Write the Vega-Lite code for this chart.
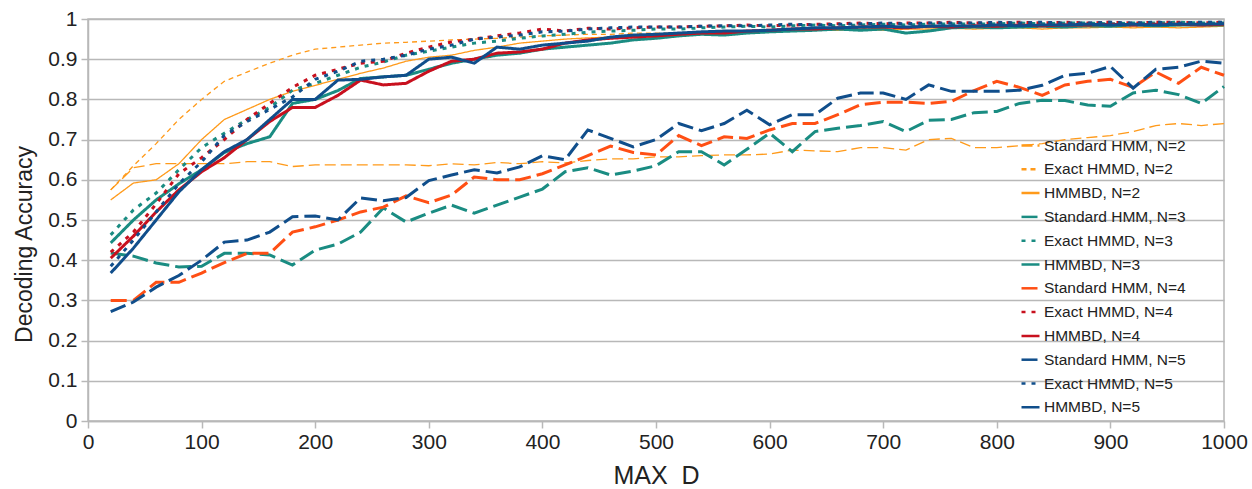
{
"$schema": "https://vega.github.io/schema/vega-lite/v6.json",
"width": 1136, "height": 402,
"autosize": {"type": "none"},
"padding": {"left": 88, "top": 19, "right": 28, "bottom": 68},
"background": "white",
"config": {"font": "Liberation Sans", "view": {"stroke": "#b8b8b8", "strokeWidth": 1.5}},
"data": {"values": [
{"s":"Standard HMM, N=2","d":20,"a":0.575},{"s":"Standard HMM, N=2","d":40,"a":0.63},{"s":"Standard HMM, N=2","d":60,"a":0.64},{"s":"Standard HMM, N=2","d":80,"a":0.64},{"s":"Standard HMM, N=2","d":100,"a":0.64},{"s":"Standard HMM, N=2","d":120,"a":0.64},{"s":"Standard HMM, N=2","d":140,"a":0.645},{"s":"Standard HMM, N=2","d":160,"a":0.645},{"s":"Standard HMM, N=2","d":180,"a":0.633},{"s":"Standard HMM, N=2","d":200,"a":0.637},{"s":"Standard HMM, N=2","d":220,"a":0.637},{"s":"Standard HMM, N=2","d":240,"a":0.637},{"s":"Standard HMM, N=2","d":260,"a":0.637},{"s":"Standard HMM, N=2","d":280,"a":0.637},{"s":"Standard HMM, N=2","d":300,"a":0.635},{"s":"Standard HMM, N=2","d":320,"a":0.64},{"s":"Standard HMM, N=2","d":340,"a":0.637},{"s":"Standard HMM, N=2","d":360,"a":0.643},{"s":"Standard HMM, N=2","d":380,"a":0.64},{"s":"Standard HMM, N=2","d":400,"a":0.645},{"s":"Standard HMM, N=2","d":420,"a":0.642},{"s":"Standard HMM, N=2","d":440,"a":0.648},{"s":"Standard HMM, N=2","d":460,"a":0.652},{"s":"Standard HMM, N=2","d":480,"a":0.652},{"s":"Standard HMM, N=2","d":500,"a":0.657},{"s":"Standard HMM, N=2","d":520,"a":0.657},{"s":"Standard HMM, N=2","d":540,"a":0.66},{"s":"Standard HMM, N=2","d":560,"a":0.662},{"s":"Standard HMM, N=2","d":580,"a":0.662},{"s":"Standard HMM, N=2","d":600,"a":0.664},{"s":"Standard HMM, N=2","d":620,"a":0.674},{"s":"Standard HMM, N=2","d":640,"a":0.672},{"s":"Standard HMM, N=2","d":660,"a":0.67},{"s":"Standard HMM, N=2","d":680,"a":0.68},{"s":"Standard HMM, N=2","d":700,"a":0.68},{"s":"Standard HMM, N=2","d":720,"a":0.674},{"s":"Standard HMM, N=2","d":740,"a":0.7},{"s":"Standard HMM, N=2","d":760,"a":0.703},{"s":"Standard HMM, N=2","d":780,"a":0.68},{"s":"Standard HMM, N=2","d":800,"a":0.68},{"s":"Standard HMM, N=2","d":820,"a":0.685},{"s":"Standard HMM, N=2","d":840,"a":0.69},{"s":"Standard HMM, N=2","d":860,"a":0.7},{"s":"Standard HMM, N=2","d":880,"a":0.705},{"s":"Standard HMM, N=2","d":900,"a":0.71},{"s":"Standard HMM, N=2","d":920,"a":0.72},{"s":"Standard HMM, N=2","d":940,"a":0.735},{"s":"Standard HMM, N=2","d":960,"a":0.74},{"s":"Standard HMM, N=2","d":980,"a":0.735},{"s":"Standard HMM, N=2","d":1000,"a":0.74},
{"s":"Exact HMMD, N=2","d":20,"a":0.575},{"s":"Exact HMMD, N=2","d":40,"a":0.635},{"s":"Exact HMMD, N=2","d":60,"a":0.69},{"s":"Exact HMMD, N=2","d":80,"a":0.75},{"s":"Exact HMMD, N=2","d":100,"a":0.8},{"s":"Exact HMMD, N=2","d":120,"a":0.845},{"s":"Exact HMMD, N=2","d":140,"a":0.868},{"s":"Exact HMMD, N=2","d":160,"a":0.89},{"s":"Exact HMMD, N=2","d":180,"a":0.91},{"s":"Exact HMMD, N=2","d":200,"a":0.925},{"s":"Exact HMMD, N=2","d":220,"a":0.93},{"s":"Exact HMMD, N=2","d":240,"a":0.935},{"s":"Exact HMMD, N=2","d":260,"a":0.94},{"s":"Exact HMMD, N=2","d":280,"a":0.942},{"s":"Exact HMMD, N=2","d":300,"a":0.945},{"s":"Exact HMMD, N=2","d":320,"a":0.948},{"s":"Exact HMMD, N=2","d":340,"a":0.95},{"s":"Exact HMMD, N=2","d":360,"a":0.952},{"s":"Exact HMMD, N=2","d":380,"a":0.955},{"s":"Exact HMMD, N=2","d":400,"a":0.958},{"s":"Exact HMMD, N=2","d":420,"a":0.96},{"s":"Exact HMMD, N=2","d":440,"a":0.962},{"s":"Exact HMMD, N=2","d":460,"a":0.962},{"s":"Exact HMMD, N=2","d":480,"a":0.965},{"s":"Exact HMMD, N=2","d":500,"a":0.965},{"s":"Exact HMMD, N=2","d":520,"a":0.965},{"s":"Exact HMMD, N=2","d":540,"a":0.968},{"s":"Exact HMMD, N=2","d":560,"a":0.97},{"s":"Exact HMMD, N=2","d":580,"a":0.97},{"s":"Exact HMMD, N=2","d":600,"a":0.972},{"s":"Exact HMMD, N=2","d":620,"a":0.975},{"s":"Exact HMMD, N=2","d":640,"a":0.975},{"s":"Exact HMMD, N=2","d":660,"a":0.977},{"s":"Exact HMMD, N=2","d":680,"a":0.975},{"s":"Exact HMMD, N=2","d":700,"a":0.978},{"s":"Exact HMMD, N=2","d":720,"a":0.98},{"s":"Exact HMMD, N=2","d":740,"a":0.978},{"s":"Exact HMMD, N=2","d":760,"a":0.98},{"s":"Exact HMMD, N=2","d":780,"a":0.98},{"s":"Exact HMMD, N=2","d":800,"a":0.982},{"s":"Exact HMMD, N=2","d":820,"a":0.98},{"s":"Exact HMMD, N=2","d":840,"a":0.982},{"s":"Exact HMMD, N=2","d":860,"a":0.98},{"s":"Exact HMMD, N=2","d":880,"a":0.983},{"s":"Exact HMMD, N=2","d":900,"a":0.982},{"s":"Exact HMMD, N=2","d":920,"a":0.983},{"s":"Exact HMMD, N=2","d":940,"a":0.985},{"s":"Exact HMMD, N=2","d":960,"a":0.983},{"s":"Exact HMMD, N=2","d":980,"a":0.985},{"s":"Exact HMMD, N=2","d":1000,"a":0.985},
{"s":"HMMBD, N=2","d":20,"a":0.55},{"s":"HMMBD, N=2","d":40,"a":0.592},{"s":"HMMBD, N=2","d":60,"a":0.6},{"s":"HMMBD, N=2","d":80,"a":0.64},{"s":"HMMBD, N=2","d":100,"a":0.7},{"s":"HMMBD, N=2","d":120,"a":0.75},{"s":"HMMBD, N=2","d":140,"a":0.775},{"s":"HMMBD, N=2","d":160,"a":0.8},{"s":"HMMBD, N=2","d":180,"a":0.82},{"s":"HMMBD, N=2","d":200,"a":0.835},{"s":"HMMBD, N=2","d":220,"a":0.85},{"s":"HMMBD, N=2","d":240,"a":0.865},{"s":"HMMBD, N=2","d":260,"a":0.878},{"s":"HMMBD, N=2","d":280,"a":0.895},{"s":"HMMBD, N=2","d":300,"a":0.905},{"s":"HMMBD, N=2","d":320,"a":0.91},{"s":"HMMBD, N=2","d":340,"a":0.922},{"s":"HMMBD, N=2","d":360,"a":0.93},{"s":"HMMBD, N=2","d":380,"a":0.94},{"s":"HMMBD, N=2","d":400,"a":0.945},{"s":"HMMBD, N=2","d":420,"a":0.95},{"s":"HMMBD, N=2","d":440,"a":0.953},{"s":"HMMBD, N=2","d":460,"a":0.955},{"s":"HMMBD, N=2","d":480,"a":0.958},{"s":"HMMBD, N=2","d":500,"a":0.958},{"s":"HMMBD, N=2","d":520,"a":0.96},{"s":"HMMBD, N=2","d":540,"a":0.962},{"s":"HMMBD, N=2","d":560,"a":0.965},{"s":"HMMBD, N=2","d":580,"a":0.965},{"s":"HMMBD, N=2","d":600,"a":0.968},{"s":"HMMBD, N=2","d":620,"a":0.97},{"s":"HMMBD, N=2","d":640,"a":0.972},{"s":"HMMBD, N=2","d":660,"a":0.972},{"s":"HMMBD, N=2","d":680,"a":0.975},{"s":"HMMBD, N=2","d":700,"a":0.972},{"s":"HMMBD, N=2","d":720,"a":0.975},{"s":"HMMBD, N=2","d":740,"a":0.975},{"s":"HMMBD, N=2","d":760,"a":0.977},{"s":"HMMBD, N=2","d":780,"a":0.975},{"s":"HMMBD, N=2","d":800,"a":0.977},{"s":"HMMBD, N=2","d":820,"a":0.978},{"s":"HMMBD, N=2","d":840,"a":0.975},{"s":"HMMBD, N=2","d":860,"a":0.978},{"s":"HMMBD, N=2","d":880,"a":0.978},{"s":"HMMBD, N=2","d":900,"a":0.98},{"s":"HMMBD, N=2","d":920,"a":0.978},{"s":"HMMBD, N=2","d":940,"a":0.98},{"s":"HMMBD, N=2","d":960,"a":0.978},{"s":"HMMBD, N=2","d":980,"a":0.98},{"s":"HMMBD, N=2","d":1000,"a":0.982},
{"s":"Standard HMM, N=3","d":20,"a":0.418},{"s":"Standard HMM, N=3","d":40,"a":0.41},{"s":"Standard HMM, N=3","d":60,"a":0.393},{"s":"Standard HMM, N=3","d":80,"a":0.383},{"s":"Standard HMM, N=3","d":100,"a":0.385},{"s":"Standard HMM, N=3","d":120,"a":0.417},{"s":"Standard HMM, N=3","d":140,"a":0.417},{"s":"Standard HMM, N=3","d":160,"a":0.413},{"s":"Standard HMM, N=3","d":180,"a":0.388},{"s":"Standard HMM, N=3","d":200,"a":0.425},{"s":"Standard HMM, N=3","d":220,"a":0.44},{"s":"Standard HMM, N=3","d":240,"a":0.47},{"s":"Standard HMM, N=3","d":260,"a":0.53},{"s":"Standard HMM, N=3","d":280,"a":0.495},{"s":"Standard HMM, N=3","d":300,"a":0.517},{"s":"Standard HMM, N=3","d":320,"a":0.537},{"s":"Standard HMM, N=3","d":340,"a":0.517},{"s":"Standard HMM, N=3","d":360,"a":0.537},{"s":"Standard HMM, N=3","d":380,"a":0.557},{"s":"Standard HMM, N=3","d":400,"a":0.577},{"s":"Standard HMM, N=3","d":420,"a":0.62},{"s":"Standard HMM, N=3","d":440,"a":0.63},{"s":"Standard HMM, N=3","d":460,"a":0.612},{"s":"Standard HMM, N=3","d":480,"a":0.622},{"s":"Standard HMM, N=3","d":500,"a":0.635},{"s":"Standard HMM, N=3","d":520,"a":0.67},{"s":"Standard HMM, N=3","d":540,"a":0.67},{"s":"Standard HMM, N=3","d":560,"a":0.637},{"s":"Standard HMM, N=3","d":580,"a":0.676},{"s":"Standard HMM, N=3","d":600,"a":0.716},{"s":"Standard HMM, N=3","d":620,"a":0.67},{"s":"Standard HMM, N=3","d":640,"a":0.72},{"s":"Standard HMM, N=3","d":660,"a":0.728},{"s":"Standard HMM, N=3","d":680,"a":0.735},{"s":"Standard HMM, N=3","d":700,"a":0.745},{"s":"Standard HMM, N=3","d":720,"a":0.72},{"s":"Standard HMM, N=3","d":740,"a":0.748},{"s":"Standard HMM, N=3","d":760,"a":0.75},{"s":"Standard HMM, N=3","d":780,"a":0.767},{"s":"Standard HMM, N=3","d":800,"a":0.77},{"s":"Standard HMM, N=3","d":820,"a":0.79},{"s":"Standard HMM, N=3","d":840,"a":0.798},{"s":"Standard HMM, N=3","d":860,"a":0.797},{"s":"Standard HMM, N=3","d":880,"a":0.786},{"s":"Standard HMM, N=3","d":900,"a":0.783},{"s":"Standard HMM, N=3","d":920,"a":0.816},{"s":"Standard HMM, N=3","d":940,"a":0.823},{"s":"Standard HMM, N=3","d":960,"a":0.812},{"s":"Standard HMM, N=3","d":980,"a":0.79},{"s":"Standard HMM, N=3","d":1000,"a":0.832},
{"s":"Exact HMMD, N=3","d":20,"a":0.463},{"s":"Exact HMMD, N=3","d":40,"a":0.525},{"s":"Exact HMMD, N=3","d":60,"a":0.567},{"s":"Exact HMMD, N=3","d":80,"a":0.625},{"s":"Exact HMMD, N=3","d":100,"a":0.68},{"s":"Exact HMMD, N=3","d":120,"a":0.716},{"s":"Exact HMMD, N=3","d":140,"a":0.75},{"s":"Exact HMMD, N=3","d":160,"a":0.78},{"s":"Exact HMMD, N=3","d":180,"a":0.823},{"s":"Exact HMMD, N=3","d":200,"a":0.84},{"s":"Exact HMMD, N=3","d":220,"a":0.86},{"s":"Exact HMMD, N=3","d":240,"a":0.88},{"s":"Exact HMMD, N=3","d":260,"a":0.893},{"s":"Exact HMMD, N=3","d":280,"a":0.91},{"s":"Exact HMMD, N=3","d":300,"a":0.92},{"s":"Exact HMMD, N=3","d":320,"a":0.93},{"s":"Exact HMMD, N=3","d":340,"a":0.94},{"s":"Exact HMMD, N=3","d":360,"a":0.945},{"s":"Exact HMMD, N=3","d":380,"a":0.952},{"s":"Exact HMMD, N=3","d":400,"a":0.958},{"s":"Exact HMMD, N=3","d":420,"a":0.962},{"s":"Exact HMMD, N=3","d":440,"a":0.967},{"s":"Exact HMMD, N=3","d":460,"a":0.97},{"s":"Exact HMMD, N=3","d":480,"a":0.972},{"s":"Exact HMMD, N=3","d":500,"a":0.975},{"s":"Exact HMMD, N=3","d":520,"a":0.975},{"s":"Exact HMMD, N=3","d":540,"a":0.978},{"s":"Exact HMMD, N=3","d":560,"a":0.98},{"s":"Exact HMMD, N=3","d":580,"a":0.982},{"s":"Exact HMMD, N=3","d":600,"a":0.98},{"s":"Exact HMMD, N=3","d":620,"a":0.983},{"s":"Exact HMMD, N=3","d":640,"a":0.985},{"s":"Exact HMMD, N=3","d":660,"a":0.983},{"s":"Exact HMMD, N=3","d":680,"a":0.985},{"s":"Exact HMMD, N=3","d":700,"a":0.987},{"s":"Exact HMMD, N=3","d":720,"a":0.985},{"s":"Exact HMMD, N=3","d":740,"a":0.987},{"s":"Exact HMMD, N=3","d":760,"a":0.988},{"s":"Exact HMMD, N=3","d":780,"a":0.987},{"s":"Exact HMMD, N=3","d":800,"a":0.988},{"s":"Exact HMMD, N=3","d":820,"a":0.99},{"s":"Exact HMMD, N=3","d":840,"a":0.988},{"s":"Exact HMMD, N=3","d":860,"a":0.99},{"s":"Exact HMMD, N=3","d":880,"a":0.99},{"s":"Exact HMMD, N=3","d":900,"a":0.988},{"s":"Exact HMMD, N=3","d":920,"a":0.99},{"s":"Exact HMMD, N=3","d":940,"a":0.99},{"s":"Exact HMMD, N=3","d":960,"a":0.992},{"s":"Exact HMMD, N=3","d":980,"a":0.99},{"s":"Exact HMMD, N=3","d":1000,"a":0.99},
{"s":"HMMBD, N=3","d":20,"a":0.443},{"s":"HMMBD, N=3","d":40,"a":0.5},{"s":"HMMBD, N=3","d":60,"a":0.55},{"s":"HMMBD, N=3","d":80,"a":0.59},{"s":"HMMBD, N=3","d":100,"a":0.625},{"s":"HMMBD, N=3","d":120,"a":0.668},{"s":"HMMBD, N=3","d":140,"a":0.69},{"s":"HMMBD, N=3","d":160,"a":0.707},{"s":"HMMBD, N=3","d":180,"a":0.79},{"s":"HMMBD, N=3","d":200,"a":0.8},{"s":"HMMBD, N=3","d":220,"a":0.822},{"s":"HMMBD, N=3","d":240,"a":0.852},{"s":"HMMBD, N=3","d":260,"a":0.856},{"s":"HMMBD, N=3","d":280,"a":0.86},{"s":"HMMBD, N=3","d":300,"a":0.875},{"s":"HMMBD, N=3","d":320,"a":0.89},{"s":"HMMBD, N=3","d":340,"a":0.9},{"s":"HMMBD, N=3","d":360,"a":0.91},{"s":"HMMBD, N=3","d":380,"a":0.915},{"s":"HMMBD, N=3","d":400,"a":0.925},{"s":"HMMBD, N=3","d":420,"a":0.93},{"s":"HMMBD, N=3","d":440,"a":0.935},{"s":"HMMBD, N=3","d":460,"a":0.94},{"s":"HMMBD, N=3","d":480,"a":0.948},{"s":"HMMBD, N=3","d":500,"a":0.952},{"s":"HMMBD, N=3","d":520,"a":0.958},{"s":"HMMBD, N=3","d":540,"a":0.962},{"s":"HMMBD, N=3","d":560,"a":0.96},{"s":"HMMBD, N=3","d":580,"a":0.965},{"s":"HMMBD, N=3","d":600,"a":0.968},{"s":"HMMBD, N=3","d":620,"a":0.97},{"s":"HMMBD, N=3","d":640,"a":0.972},{"s":"HMMBD, N=3","d":660,"a":0.975},{"s":"HMMBD, N=3","d":680,"a":0.972},{"s":"HMMBD, N=3","d":700,"a":0.975},{"s":"HMMBD, N=3","d":720,"a":0.965},{"s":"HMMBD, N=3","d":740,"a":0.97},{"s":"HMMBD, N=3","d":760,"a":0.978},{"s":"HMMBD, N=3","d":780,"a":0.98},{"s":"HMMBD, N=3","d":800,"a":0.978},{"s":"HMMBD, N=3","d":820,"a":0.98},{"s":"HMMBD, N=3","d":840,"a":0.982},{"s":"HMMBD, N=3","d":860,"a":0.98},{"s":"HMMBD, N=3","d":880,"a":0.983},{"s":"HMMBD, N=3","d":900,"a":0.982},{"s":"HMMBD, N=3","d":920,"a":0.985},{"s":"HMMBD, N=3","d":940,"a":0.983},{"s":"HMMBD, N=3","d":960,"a":0.985},{"s":"HMMBD, N=3","d":980,"a":0.985},{"s":"HMMBD, N=3","d":1000,"a":0.985},
{"s":"Standard HMM, N=4","d":20,"a":0.3},{"s":"Standard HMM, N=4","d":40,"a":0.3},{"s":"Standard HMM, N=4","d":60,"a":0.345},{"s":"Standard HMM, N=4","d":80,"a":0.345},{"s":"Standard HMM, N=4","d":100,"a":0.368},{"s":"Standard HMM, N=4","d":120,"a":0.394},{"s":"Standard HMM, N=4","d":140,"a":0.417},{"s":"Standard HMM, N=4","d":160,"a":0.417},{"s":"Standard HMM, N=4","d":180,"a":0.47},{"s":"Standard HMM, N=4","d":200,"a":0.483},{"s":"Standard HMM, N=4","d":220,"a":0.5},{"s":"Standard HMM, N=4","d":240,"a":0.52},{"s":"Standard HMM, N=4","d":260,"a":0.532},{"s":"Standard HMM, N=4","d":280,"a":0.56},{"s":"Standard HMM, N=4","d":300,"a":0.543},{"s":"Standard HMM, N=4","d":320,"a":0.562},{"s":"Standard HMM, N=4","d":340,"a":0.607},{"s":"Standard HMM, N=4","d":360,"a":0.6},{"s":"Standard HMM, N=4","d":380,"a":0.6},{"s":"Standard HMM, N=4","d":400,"a":0.615},{"s":"Standard HMM, N=4","d":420,"a":0.637},{"s":"Standard HMM, N=4","d":440,"a":0.66},{"s":"Standard HMM, N=4","d":460,"a":0.684},{"s":"Standard HMM, N=4","d":480,"a":0.668},{"s":"Standard HMM, N=4","d":500,"a":0.662},{"s":"Standard HMM, N=4","d":520,"a":0.71},{"s":"Standard HMM, N=4","d":540,"a":0.685},{"s":"Standard HMM, N=4","d":560,"a":0.707},{"s":"Standard HMM, N=4","d":580,"a":0.703},{"s":"Standard HMM, N=4","d":600,"a":0.724},{"s":"Standard HMM, N=4","d":620,"a":0.74},{"s":"Standard HMM, N=4","d":640,"a":0.74},{"s":"Standard HMM, N=4","d":660,"a":0.762},{"s":"Standard HMM, N=4","d":680,"a":0.787},{"s":"Standard HMM, N=4","d":700,"a":0.793},{"s":"Standard HMM, N=4","d":720,"a":0.793},{"s":"Standard HMM, N=4","d":740,"a":0.79},{"s":"Standard HMM, N=4","d":760,"a":0.795},{"s":"Standard HMM, N=4","d":780,"a":0.822},{"s":"Standard HMM, N=4","d":800,"a":0.845},{"s":"Standard HMM, N=4","d":820,"a":0.83},{"s":"Standard HMM, N=4","d":840,"a":0.81},{"s":"Standard HMM, N=4","d":860,"a":0.836},{"s":"Standard HMM, N=4","d":880,"a":0.845},{"s":"Standard HMM, N=4","d":900,"a":0.85},{"s":"Standard HMM, N=4","d":920,"a":0.83},{"s":"Standard HMM, N=4","d":940,"a":0.868},{"s":"Standard HMM, N=4","d":960,"a":0.84},{"s":"Standard HMM, N=4","d":980,"a":0.88},{"s":"Standard HMM, N=4","d":1000,"a":0.86},
{"s":"Exact HMMD, N=4","d":20,"a":0.42},{"s":"Exact HMMD, N=4","d":40,"a":0.47},{"s":"Exact HMMD, N=4","d":60,"a":0.54},{"s":"Exact HMMD, N=4","d":80,"a":0.615},{"s":"Exact HMMD, N=4","d":100,"a":0.655},{"s":"Exact HMMD, N=4","d":120,"a":0.7},{"s":"Exact HMMD, N=4","d":140,"a":0.75},{"s":"Exact HMMD, N=4","d":160,"a":0.79},{"s":"Exact HMMD, N=4","d":180,"a":0.83},{"s":"Exact HMMD, N=4","d":200,"a":0.86},{"s":"Exact HMMD, N=4","d":220,"a":0.875},{"s":"Exact HMMD, N=4","d":240,"a":0.89},{"s":"Exact HMMD, N=4","d":260,"a":0.895},{"s":"Exact HMMD, N=4","d":280,"a":0.915},{"s":"Exact HMMD, N=4","d":300,"a":0.93},{"s":"Exact HMMD, N=4","d":320,"a":0.943},{"s":"Exact HMMD, N=4","d":340,"a":0.95},{"s":"Exact HMMD, N=4","d":360,"a":0.958},{"s":"Exact HMMD, N=4","d":380,"a":0.965},{"s":"Exact HMMD, N=4","d":400,"a":0.975},{"s":"Exact HMMD, N=4","d":420,"a":0.97},{"s":"Exact HMMD, N=4","d":440,"a":0.977},{"s":"Exact HMMD, N=4","d":460,"a":0.975},{"s":"Exact HMMD, N=4","d":480,"a":0.978},{"s":"Exact HMMD, N=4","d":500,"a":0.98},{"s":"Exact HMMD, N=4","d":520,"a":0.98},{"s":"Exact HMMD, N=4","d":540,"a":0.982},{"s":"Exact HMMD, N=4","d":560,"a":0.983},{"s":"Exact HMMD, N=4","d":580,"a":0.985},{"s":"Exact HMMD, N=4","d":600,"a":0.983},{"s":"Exact HMMD, N=4","d":620,"a":0.985},{"s":"Exact HMMD, N=4","d":640,"a":0.987},{"s":"Exact HMMD, N=4","d":660,"a":0.988},{"s":"Exact HMMD, N=4","d":680,"a":0.99},{"s":"Exact HMMD, N=4","d":700,"a":0.988},{"s":"Exact HMMD, N=4","d":720,"a":0.99},{"s":"Exact HMMD, N=4","d":740,"a":0.99},{"s":"Exact HMMD, N=4","d":760,"a":0.992},{"s":"Exact HMMD, N=4","d":780,"a":0.99},{"s":"Exact HMMD, N=4","d":800,"a":0.99},{"s":"Exact HMMD, N=4","d":820,"a":0.992},{"s":"Exact HMMD, N=4","d":840,"a":0.99},{"s":"Exact HMMD, N=4","d":860,"a":0.992},{"s":"Exact HMMD, N=4","d":880,"a":0.99},{"s":"Exact HMMD, N=4","d":900,"a":0.992},{"s":"Exact HMMD, N=4","d":920,"a":0.99},{"s":"Exact HMMD, N=4","d":940,"a":0.992},{"s":"Exact HMMD, N=4","d":960,"a":0.992},{"s":"Exact HMMD, N=4","d":980,"a":0.99},{"s":"Exact HMMD, N=4","d":1000,"a":0.992},
{"s":"HMMBD, N=4","d":20,"a":0.405},{"s":"HMMBD, N=4","d":40,"a":0.46},{"s":"HMMBD, N=4","d":60,"a":0.52},{"s":"HMMBD, N=4","d":80,"a":0.575},{"s":"HMMBD, N=4","d":100,"a":0.62},{"s":"HMMBD, N=4","d":120,"a":0.655},{"s":"HMMBD, N=4","d":140,"a":0.7},{"s":"HMMBD, N=4","d":160,"a":0.745},{"s":"HMMBD, N=4","d":180,"a":0.78},{"s":"HMMBD, N=4","d":200,"a":0.78},{"s":"HMMBD, N=4","d":220,"a":0.81},{"s":"HMMBD, N=4","d":240,"a":0.848},{"s":"HMMBD, N=4","d":260,"a":0.836},{"s":"HMMBD, N=4","d":280,"a":0.84},{"s":"HMMBD, N=4","d":300,"a":0.87},{"s":"HMMBD, N=4","d":320,"a":0.895},{"s":"HMMBD, N=4","d":340,"a":0.9},{"s":"HMMBD, N=4","d":360,"a":0.915},{"s":"HMMBD, N=4","d":380,"a":0.918},{"s":"HMMBD, N=4","d":400,"a":0.925},{"s":"HMMBD, N=4","d":420,"a":0.94},{"s":"HMMBD, N=4","d":440,"a":0.948},{"s":"HMMBD, N=4","d":460,"a":0.952},{"s":"HMMBD, N=4","d":480,"a":0.955},{"s":"HMMBD, N=4","d":500,"a":0.958},{"s":"HMMBD, N=4","d":520,"a":0.962},{"s":"HMMBD, N=4","d":540,"a":0.965},{"s":"HMMBD, N=4","d":560,"a":0.965},{"s":"HMMBD, N=4","d":580,"a":0.97},{"s":"HMMBD, N=4","d":600,"a":0.972},{"s":"HMMBD, N=4","d":620,"a":0.975},{"s":"HMMBD, N=4","d":640,"a":0.975},{"s":"HMMBD, N=4","d":660,"a":0.978},{"s":"HMMBD, N=4","d":680,"a":0.98},{"s":"HMMBD, N=4","d":700,"a":0.98},{"s":"HMMBD, N=4","d":720,"a":0.978},{"s":"HMMBD, N=4","d":740,"a":0.982},{"s":"HMMBD, N=4","d":760,"a":0.98},{"s":"HMMBD, N=4","d":780,"a":0.983},{"s":"HMMBD, N=4","d":800,"a":0.982},{"s":"HMMBD, N=4","d":820,"a":0.985},{"s":"HMMBD, N=4","d":840,"a":0.983},{"s":"HMMBD, N=4","d":860,"a":0.985},{"s":"HMMBD, N=4","d":880,"a":0.985},{"s":"HMMBD, N=4","d":900,"a":0.987},{"s":"HMMBD, N=4","d":920,"a":0.985},{"s":"HMMBD, N=4","d":940,"a":0.987},{"s":"HMMBD, N=4","d":960,"a":0.987},{"s":"HMMBD, N=4","d":980,"a":0.985},{"s":"HMMBD, N=4","d":1000,"a":0.987},
{"s":"Standard HMM, N=5","d":20,"a":0.272},{"s":"Standard HMM, N=5","d":40,"a":0.296},{"s":"Standard HMM, N=5","d":60,"a":0.333},{"s":"Standard HMM, N=5","d":80,"a":0.362},{"s":"Standard HMM, N=5","d":100,"a":0.4},{"s":"Standard HMM, N=5","d":120,"a":0.445},{"s":"Standard HMM, N=5","d":140,"a":0.45},{"s":"Standard HMM, N=5","d":160,"a":0.47},{"s":"Standard HMM, N=5","d":180,"a":0.508},{"s":"Standard HMM, N=5","d":200,"a":0.51},{"s":"Standard HMM, N=5","d":220,"a":0.5},{"s":"Standard HMM, N=5","d":240,"a":0.555},{"s":"Standard HMM, N=5","d":260,"a":0.548},{"s":"Standard HMM, N=5","d":280,"a":0.556},{"s":"Standard HMM, N=5","d":300,"a":0.598},{"s":"Standard HMM, N=5","d":320,"a":0.612},{"s":"Standard HMM, N=5","d":340,"a":0.625},{"s":"Standard HMM, N=5","d":360,"a":0.617},{"s":"Standard HMM, N=5","d":380,"a":0.632},{"s":"Standard HMM, N=5","d":400,"a":0.66},{"s":"Standard HMM, N=5","d":420,"a":0.65},{"s":"Standard HMM, N=5","d":440,"a":0.724},{"s":"Standard HMM, N=5","d":460,"a":0.703},{"s":"Standard HMM, N=5","d":480,"a":0.682},{"s":"Standard HMM, N=5","d":500,"a":0.7},{"s":"Standard HMM, N=5","d":520,"a":0.74},{"s":"Standard HMM, N=5","d":540,"a":0.722},{"s":"Standard HMM, N=5","d":560,"a":0.74},{"s":"Standard HMM, N=5","d":580,"a":0.773},{"s":"Standard HMM, N=5","d":600,"a":0.737},{"s":"Standard HMM, N=5","d":620,"a":0.762},{"s":"Standard HMM, N=5","d":640,"a":0.762},{"s":"Standard HMM, N=5","d":660,"a":0.803},{"s":"Standard HMM, N=5","d":680,"a":0.816},{"s":"Standard HMM, N=5","d":700,"a":0.816},{"s":"Standard HMM, N=5","d":720,"a":0.8},{"s":"Standard HMM, N=5","d":740,"a":0.836},{"s":"Standard HMM, N=5","d":760,"a":0.82},{"s":"Standard HMM, N=5","d":780,"a":0.82},{"s":"Standard HMM, N=5","d":800,"a":0.82},{"s":"Standard HMM, N=5","d":820,"a":0.823},{"s":"Standard HMM, N=5","d":840,"a":0.835},{"s":"Standard HMM, N=5","d":860,"a":0.86},{"s":"Standard HMM, N=5","d":880,"a":0.865},{"s":"Standard HMM, N=5","d":900,"a":0.882},{"s":"Standard HMM, N=5","d":920,"a":0.828},{"s":"Standard HMM, N=5","d":940,"a":0.875},{"s":"Standard HMM, N=5","d":960,"a":0.88},{"s":"Standard HMM, N=5","d":980,"a":0.895},{"s":"Standard HMM, N=5","d":1000,"a":0.89},
{"s":"Exact HMMD, N=5","d":20,"a":0.385},{"s":"Exact HMMD, N=5","d":40,"a":0.45},{"s":"Exact HMMD, N=5","d":60,"a":0.52},{"s":"Exact HMMD, N=5","d":80,"a":0.59},{"s":"Exact HMMD, N=5","d":100,"a":0.645},{"s":"Exact HMMD, N=5","d":120,"a":0.71},{"s":"Exact HMMD, N=5","d":140,"a":0.745},{"s":"Exact HMMD, N=5","d":160,"a":0.775},{"s":"Exact HMMD, N=5","d":180,"a":0.806},{"s":"Exact HMMD, N=5","d":200,"a":0.85},{"s":"Exact HMMD, N=5","d":220,"a":0.87},{"s":"Exact HMMD, N=5","d":240,"a":0.895},{"s":"Exact HMMD, N=5","d":260,"a":0.9},{"s":"Exact HMMD, N=5","d":280,"a":0.91},{"s":"Exact HMMD, N=5","d":300,"a":0.925},{"s":"Exact HMMD, N=5","d":320,"a":0.935},{"s":"Exact HMMD, N=5","d":340,"a":0.95},{"s":"Exact HMMD, N=5","d":360,"a":0.955},{"s":"Exact HMMD, N=5","d":380,"a":0.96},{"s":"Exact HMMD, N=5","d":400,"a":0.968},{"s":"Exact HMMD, N=5","d":420,"a":0.97},{"s":"Exact HMMD, N=5","d":440,"a":0.975},{"s":"Exact HMMD, N=5","d":460,"a":0.978},{"s":"Exact HMMD, N=5","d":480,"a":0.98},{"s":"Exact HMMD, N=5","d":500,"a":0.98},{"s":"Exact HMMD, N=5","d":520,"a":0.98},{"s":"Exact HMMD, N=5","d":540,"a":0.982},{"s":"Exact HMMD, N=5","d":560,"a":0.983},{"s":"Exact HMMD, N=5","d":580,"a":0.983},{"s":"Exact HMMD, N=5","d":600,"a":0.985},{"s":"Exact HMMD, N=5","d":620,"a":0.987},{"s":"Exact HMMD, N=5","d":640,"a":0.985},{"s":"Exact HMMD, N=5","d":660,"a":0.987},{"s":"Exact HMMD, N=5","d":680,"a":0.988},{"s":"Exact HMMD, N=5","d":700,"a":0.99},{"s":"Exact HMMD, N=5","d":720,"a":0.988},{"s":"Exact HMMD, N=5","d":740,"a":0.99},{"s":"Exact HMMD, N=5","d":760,"a":0.99},{"s":"Exact HMMD, N=5","d":780,"a":0.99},{"s":"Exact HMMD, N=5","d":800,"a":0.992},{"s":"Exact HMMD, N=5","d":820,"a":0.99},{"s":"Exact HMMD, N=5","d":840,"a":0.992},{"s":"Exact HMMD, N=5","d":860,"a":0.99},{"s":"Exact HMMD, N=5","d":880,"a":0.99},{"s":"Exact HMMD, N=5","d":900,"a":0.992},{"s":"Exact HMMD, N=5","d":920,"a":0.99},{"s":"Exact HMMD, N=5","d":940,"a":0.992},{"s":"Exact HMMD, N=5","d":960,"a":0.99},{"s":"Exact HMMD, N=5","d":980,"a":0.992},{"s":"Exact HMMD, N=5","d":1000,"a":0.992},
{"s":"HMMBD, N=5","d":20,"a":0.368},{"s":"HMMBD, N=5","d":40,"a":0.43},{"s":"HMMBD, N=5","d":60,"a":0.5},{"s":"HMMBD, N=5","d":80,"a":0.57},{"s":"HMMBD, N=5","d":100,"a":0.625},{"s":"HMMBD, N=5","d":120,"a":0.67},{"s":"HMMBD, N=5","d":140,"a":0.7},{"s":"HMMBD, N=5","d":160,"a":0.75},{"s":"HMMBD, N=5","d":180,"a":0.8},{"s":"HMMBD, N=5","d":200,"a":0.8},{"s":"HMMBD, N=5","d":220,"a":0.848},{"s":"HMMBD, N=5","d":240,"a":0.85},{"s":"HMMBD, N=5","d":260,"a":0.856},{"s":"HMMBD, N=5","d":280,"a":0.86},{"s":"HMMBD, N=5","d":300,"a":0.9},{"s":"HMMBD, N=5","d":320,"a":0.905},{"s":"HMMBD, N=5","d":340,"a":0.89},{"s":"HMMBD, N=5","d":360,"a":0.93},{"s":"HMMBD, N=5","d":380,"a":0.925},{"s":"HMMBD, N=5","d":400,"a":0.935},{"s":"HMMBD, N=5","d":420,"a":0.94},{"s":"HMMBD, N=5","d":440,"a":0.945},{"s":"HMMBD, N=5","d":460,"a":0.955},{"s":"HMMBD, N=5","d":480,"a":0.96},{"s":"HMMBD, N=5","d":500,"a":0.962},{"s":"HMMBD, N=5","d":520,"a":0.965},{"s":"HMMBD, N=5","d":540,"a":0.968},{"s":"HMMBD, N=5","d":560,"a":0.97},{"s":"HMMBD, N=5","d":580,"a":0.97},{"s":"HMMBD, N=5","d":600,"a":0.972},{"s":"HMMBD, N=5","d":620,"a":0.975},{"s":"HMMBD, N=5","d":640,"a":0.978},{"s":"HMMBD, N=5","d":660,"a":0.978},{"s":"HMMBD, N=5","d":680,"a":0.98},{"s":"HMMBD, N=5","d":700,"a":0.982},{"s":"HMMBD, N=5","d":720,"a":0.98},{"s":"HMMBD, N=5","d":740,"a":0.982},{"s":"HMMBD, N=5","d":760,"a":0.983},{"s":"HMMBD, N=5","d":780,"a":0.982},{"s":"HMMBD, N=5","d":800,"a":0.985},{"s":"HMMBD, N=5","d":820,"a":0.983},{"s":"HMMBD, N=5","d":840,"a":0.985},{"s":"HMMBD, N=5","d":860,"a":0.985},{"s":"HMMBD, N=5","d":880,"a":0.987},{"s":"HMMBD, N=5","d":900,"a":0.985},{"s":"HMMBD, N=5","d":920,"a":0.987},{"s":"HMMBD, N=5","d":940,"a":0.985},{"s":"HMMBD, N=5","d":960,"a":0.987},{"s":"HMMBD, N=5","d":980,"a":0.987},{"s":"HMMBD, N=5","d":1000,"a":0.988}
]},
"mark": {"type": "line", "strokeCap": "butt", "strokeJoin": "miter"},
"encoding": {
"x": {"field": "d", "type": "quantitative",
 "scale": {"domain": [0, 1000], "nice": false, "zero": false},
 "axis": {"values": [0,100,200,300,400,500,600,700,800,900,1000], "format": "d", "grid": false, "title": "MAX\u00a0\u00a0D",
  "domainColor": "#b8b8b8", "domainWidth": 1.5, "tickColor": "#b8b8b8", "tickWidth": 1.5, "tickSize": 7,
  "labelFontSize": 21, "labelColor": "#222222", "labelPadding": 3, "labelFlush": false, "labelOverlap": false,
  "titleFontSize": 25, "titleFontWeight": "normal", "titleColor": "#222222", "titleY": 62, "titleBaseline": "alphabetic"}},
"y": {"field": "a", "type": "quantitative",
 "scale": {"domain": [0, 1], "nice": false},
 "axis": {"values": [0,0.1,0.2,0.3,0.4,0.5,0.6,0.7,0.8,0.9,1], "format": "~g", "grid": true, "gridColor": "#b8b8b8", "gridWidth": 1.5, "title": "Decoding Accuracy",
  "domainColor": "#b8b8b8", "domainWidth": 1.5, "tickColor": "#b8b8b8", "tickWidth": 1.5, "tickSize": 7,
  "labelFontSize": 21, "labelColor": "#222222", "labelPadding": 4, "labelOverlap": false,
  "titleFontSize": 23, "titleFontWeight": "normal", "titleColor": "#222222", "titleX": -57, "titleY": 225, "titleBaseline": "alphabetic", "titleAngle": 270}},
"color": {"field": "s", "type": "nominal",
 "scale": {"domain": ["Standard HMM, N=2","Exact HMMD, N=2","HMMBD, N=2","Standard HMM, N=3","Exact HMMD, N=3","HMMBD, N=3","Standard HMM, N=4","Exact HMMD, N=4","HMMBD, N=4","Standard HMM, N=5","Exact HMMD, N=5","HMMBD, N=5"],
  "range": ["#ff9a1a","#ff9a1a","#ff9a1a","#1a8c82","#1a8c82","#1a8c82","#ff4f14","#c8101e","#c8101e","#104e8b","#104e8b","#104e8b"]},
 "legend": {"orient": "none", "legendX": 932, "legendY": 116, "title": null, "labelFontSize": 15.5, "labelColor": "#222222", "symbolType": "stroke", "symbolSize": 324, "symbolStrokeWidth": 2.5, "labelOffset": 3, "rowPadding": 4.8, "padding": 0}},
"strokeDash": {"field": "s", "type": "nominal",
 "scale": {"domain": ["Standard HMM, N=2","Exact HMMD, N=2","HMMBD, N=2","Standard HMM, N=3","Exact HMMD, N=3","HMMBD, N=3","Standard HMM, N=4","Exact HMMD, N=4","HMMBD, N=4","Standard HMM, N=5","Exact HMMD, N=5","HMMBD, N=5"],
  "range": [[11,5],[5,4],[1,0],[16,6],[4,6],[1,0],[16,6],[4,6],[1,0],[16,6],[4,6],[1,0]]}},
"strokeWidth": {"condition": {"test": "indexof(datum.s, 'N=2') >= 0", "value": 1.3}, "value": 3}
}
}
